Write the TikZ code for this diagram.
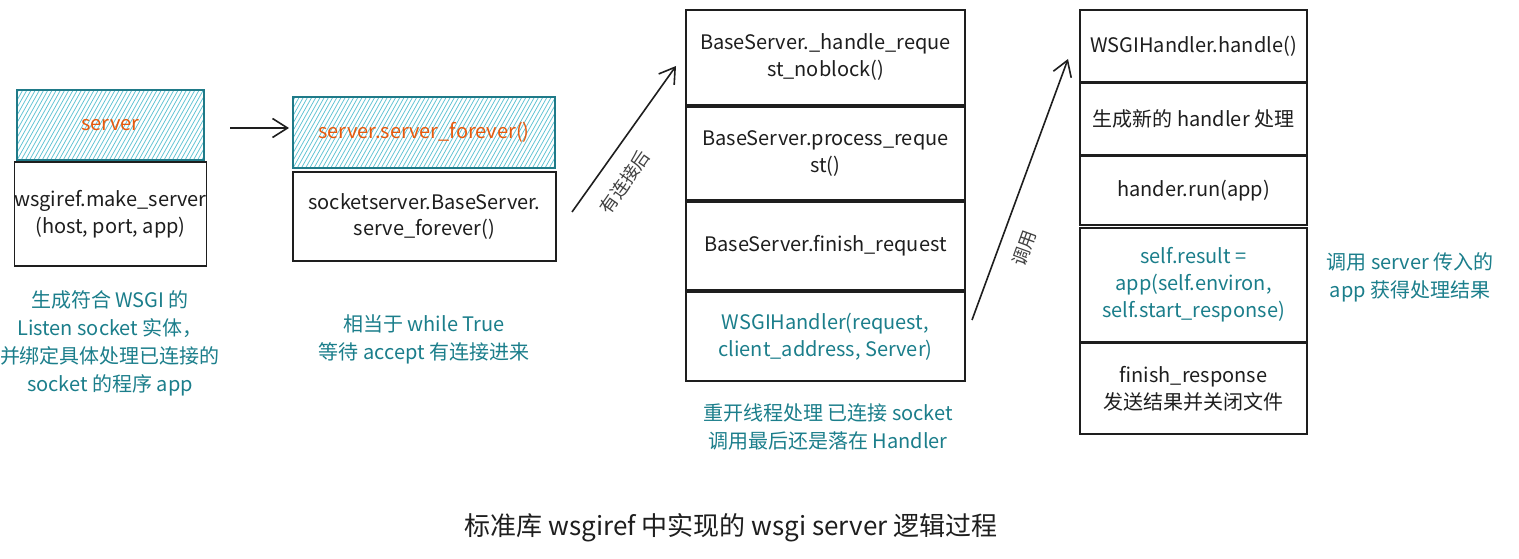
\documentclass[tikz,border=0pt]{standalone}
\usepackage{fontspec}
\setmainfont{Noto Sans CJK SC}
\usetikzlibrary{arrows.meta}
\definecolor{ink}{HTML}{1E1E1E}
\definecolor{tealtxt}{HTML}{1B7E8B}
\definecolor{orangetxt}{HTML}{E8590C}
\definecolor{hatchc}{HTML}{5EC3D3}
\definecolor{hatchborder}{HTML}{1F7A88}
\begin{document}
\begin{tikzpicture}[x=1pt,y=-1pt,
  box/.style={draw=ink, line width=1.2pt, inner sep=0pt, align=center,
    font=\fontsize{20}{27}\selectfont, text=ink},
  hatchbox/.style={box, draw=hatchborder, text=orangetxt,
    path picture={
      \foreach \i in {-20,...,70}
        \draw[hatchc, line width=0.75pt]
          ([xshift=\i*4.2pt]path picture bounding box.south west) -- ++(45pt,80pt);
    }},
  note/.style={align=center, text=tealtxt, font=\fontsize{20}{28}\selectfont, inner sep=0pt},
  conn/.style={draw=ink, line width=1.6pt, -{Straight Barb[length=15pt,width=19pt]}},
  conlabel/.style={text=ink!85, font=\fontsize{18}{22}\selectfont, inner sep=0pt}
]
\useasboundingbox (0,0) rectangle (1519,559);
\fill[white] (0,0) rectangle (1519,559);

% column 1
\node[hatchbox, minimum width=187pt, minimum height=70pt] (s1) at (110.5,125) {server};
\node[box, minimum width=187pt, minimum height=104pt] (m1) at (110.5,214)
  {wsgiref.make\_server\\(host, port, app)};
\node[note] (n1) at (110,343)
  {生成符合 WSGI 的\\Listen socket 实体，\\并绑定具体处理已连接的\\socket 的程序 app};

% column 2
\node[hatchbox, minimum width=262pt, minimum height=71pt] (s2) at (424,132.5) {server.server\_forever()};
\node[box, minimum width=263pt, minimum height=89pt] (m2) at (424.5,216.5)
  {socketserver.BaseServer.\\serve\_forever()};
\node[note] (n2) at (424,339) {相当于 while True\\等待 accept 有连接进来};

% column 3
\node[box, minimum width=279pt, minimum height=95pt] (c3a) at (825.5,57.5)
  {BaseServer.\_handle\_reque\\st\_noblock()};
\node[box, minimum width=279pt, minimum height=93pt] (c3b) at (825.5,153.5)
  {BaseServer.process\_reque\\st()};
\node[box, minimum width=279pt, minimum height=88pt] (c3c) at (825.5,246)
  {BaseServer.finish\_request};
\node[box, minimum width=279pt, minimum height=89pt, text=tealtxt] (c3d) at (825.5,336.5)
  {WSGIHandler(request,\\client\_address, Server)};
\node[note] (n3) at (828,427) {重开线程处理 已连接 socket\\调用最后还是落在 Handler};

% column 4
\node[box, minimum width=227pt, minimum height=72pt] (c4a) at (1193.5,46) {WSGIHandler.handle()};
\node[box, minimum width=227pt, minimum height=72pt] (c4b) at (1193.5,119) {生成新的 handler 处理};
\node[box, minimum width=227pt, minimum height=69pt] (c4c) at (1193.5,190.5) {hander.run(app)};
\node[box, minimum width=227pt, minimum height=114pt, text=tealtxt] (c4d) at (1193.5,285)
  {self.result =\\app(self.environ,\\self.start\_response)};
\node[box, minimum width=227pt, minimum height=91pt] (c4e) at (1193.5,388.5)
  {finish\_response\\发送结果并关闭文件};
\node[note] (n4) at (1410,277) {调用 server 传入的\\app 获得处理结果};

% title
\node[inner sep=0pt, text=ink, font=\fontsize{26}{30}\selectfont] (title) at (731,528)
  {标准库 wsgiref 中实现的 wsgi server 逻辑过程};

% connectors
\coordinate (a1s) at (230,128);
\coordinate (a1e) at (289,128);
\draw[conn] (a1s) -- (a1e);

\coordinate (a2s) at (572,212);
\coordinate (a2e) at (676,66);
\draw[conn] (a2s) -- (a2e);
\node[conlabel, rotate=55] (l2) at (625,182) {有连接后};

\coordinate (a3s) at (972,320);
\coordinate (a3e) at (1068,59);
\draw[conn] (a3s) -- (a3e);
\node[conlabel, rotate=70] (l3) at (1024,248) {调用};
\end{tikzpicture}
\end{document}
